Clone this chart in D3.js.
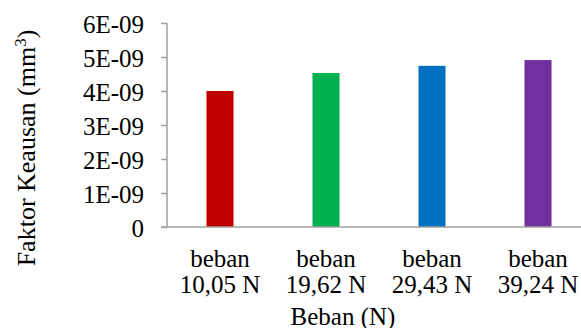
<!DOCTYPE html>
<html><head><meta charset="utf-8">
<script src="https://cdn.jsdelivr.net/npm/d3@7"></script>
<style>html,body{margin:0;padding:0;background:#fff;}svg text{font-family:"Liberation Serif","Times New Roman","DejaVu Serif",serif !important;fill:#000;}</style>
</head><body>
<svg id="c" width="581" height="328"></svg>
<script>
const categories = ["beban 10,05 N", "beban 19,62 N", "beban 29,43 N", "beban 39,24 N"];
const values = [4.0e-9, 4.53e-9, 4.74e-9, 4.91e-9];
const colors = ["#C00000", "#00B050", "#0070C0", "#7030A0"];
const yTicks = [0, 1e-9, 2e-9, 3e-9, 4e-9, 5e-9, 6e-9];
const yTickLabels = ["0", "1E-09", "2E-09", "3E-09", "4E-09", "5E-09", "6E-09"];
const yTitle = "Faktor Keausan (mm";
const xTitle = "Beban (N)";

const svg = d3.select("#c");
const fs = 25;
const pLeft = 167, pRight = 591, pTop = 23, pBottom = 227;
const x = d3.scaleBand().domain(categories).range([pLeft, pRight]).padding(0);
const y = d3.scaleLinear().domain([0, 6e-9]).range([pBottom, pTop]);
const barW = x.bandwidth() * 0.255;
const axisColor = "#a0a0a0";

svg.selectAll("rect.bar").data(values).join("rect").attr("class","bar")
  .attr("x", (d,i) => x(categories[i]) + x.bandwidth()/2 - barW/2)
  .attr("width", barW)
  .attr("y", d => y(d))
  .attr("height", d => y(0) - y(d))
  .attr("fill", (d,i) => colors[i]);

// y axis
const yAxis = d3.axisLeft(y).tickValues(yTicks).tickSize(6).tickFormat((d,i) => yTickLabels[i]);
const gy = svg.append("g").attr("transform", `translate(${pLeft},0)`).call(yAxis).attr("font-family", null);
gy.select(".domain").attr("stroke", axisColor).attr("stroke-width", 1.5).attr("d", `M0,${pTop}V${pBottom}`);
gy.selectAll(".tick line").attr("stroke", axisColor).attr("stroke-width", 1.5);
gy.selectAll(".tick text").attr("x", -23).attr("dy", "0.38em").style("font-size", fs + "px").attr("fill", "#000");

// x axis
const xAxis = d3.axisBottom(x).tickSize(0).tickFormat("");
const gx = svg.append("g").attr("transform", `translate(0,${pBottom})`).call(xAxis).attr("font-family", null);
gx.select(".domain").attr("stroke", axisColor).attr("stroke-width", 1.5).attr("d", `M${pLeft-6},0H${pRight}`);
gx.selectAll(".tick").each(function(d) {
  const parts = d.split(" ");
  const t = d3.select(this).select("text").attr("y", 0).attr("dy", null)
    .style("font-size", fs + "px").attr("fill", "#000");
  t.text(null);
  t.append("tspan").attr("x", 0).attr("y", 40).text(parts[0]);
  t.append("tspan").attr("x", 0).attr("y", 66).text(parts.slice(1).join(" "));
});

// titles
svg.append("text").attr("x", 343).attr("y", 325).attr("text-anchor", "middle")
  .style("font-size", fs + "px").text(xTitle);
const yt = svg.append("text").attr("transform", `translate(35,148) rotate(-90)`).attr("text-anchor", "middle")
  .style("font-size", "26px");
yt.append("tspan").text(yTitle);
yt.append("tspan").attr("baseline-shift", "super").style("font-size", "17px").text("3");
yt.append("tspan").text(")");
</script>
</body></html>
